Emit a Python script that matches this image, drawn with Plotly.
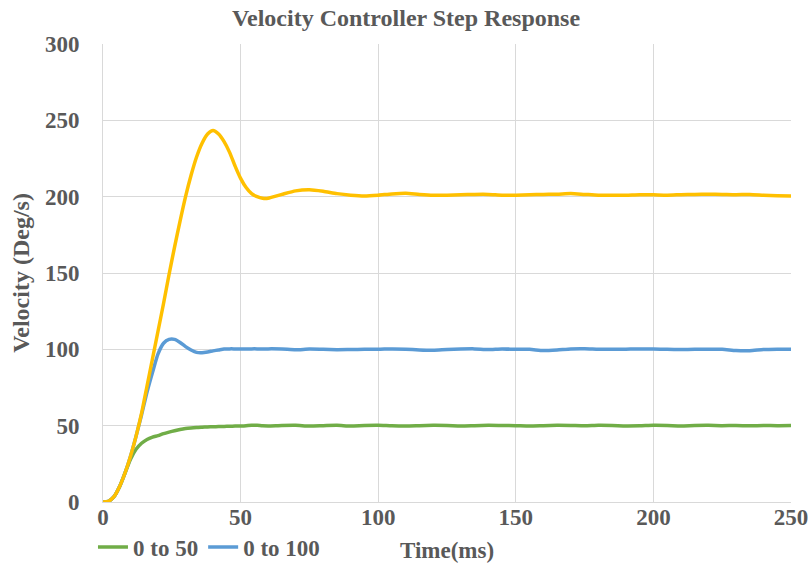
import plotly.graph_objects as go

time_ms = [0, 2, 4, 6, 8, 10, 12, 14, 16, 18, 20, 22, 24, 26, 28, 30, 32, 34, 36, 38,
           40, 42, 44, 46, 48, 50, 52, 54, 56, 58, 60, 65, 70, 75, 80, 85, 90, 95, 100,
           105, 110, 115, 120, 125, 130, 135, 140, 145, 150, 155, 160, 165, 170, 175,
           180, 185, 190, 195, 200, 205, 210, 215, 220, 225, 230, 235, 240, 245, 250]

vel_0_to_50 = [0, 0.5, 3.5, 10, 19, 28, 34.5, 38.5, 41, 42.5, 43.5, 44.8, 45.8, 46.7, 47.5,
               48.1, 48.5, 48.8, 49, 49.2, 49.3, 49.4, 49.5, 49.6, 49.7, 49.8, 50, 50.3,
               50.2, 49.9, 49.8, 50.1, 50.2, 49.8, 50, 50.2, 49.8, 50.1, 50.2, 49.9, 49.8,
               50, 50.2, 50.1, 49.8, 50, 50.2, 50.1, 50, 49.8, 50, 50.2, 50.1, 49.9, 50.2,
               50.1, 49.8, 49.9, 50.2, 50.1, 49.8, 50.1, 50.2, 50, 50.1, 49.9, 50.1, 50, 50.1]

vel_0_to_100 = [0, 0.5, 3.5, 10, 19, 30, 43, 57, 72, 85, 97, 104, 106.5, 106.5, 104.5, 101.8,
                99.6, 98, 97.8, 98.3, 99, 99.6, 100.2, 100.3, 100.3, 100.3, 100.2, 100.3,
                100.3, 100.2, 100.3, 100.2, 99.7, 100.2, 100, 99.8, 99.9, 100, 100, 100.3,
                100.1, 99.6, 99.4, 99.9, 100.2, 100.3, 99.9, 100.3, 100, 100, 99.2, 99.6,
                100.3, 100.4, 100.1, 100, 100.1, 100.3, 100.2, 100, 99.9, 100, 100, 100,
                99.2, 99.1, 99.9, 100.1, 100.1]

vel_0_to_200 = [0, 0.5, 3.5, 10, 19, 30, 43, 58, 76, 94, 112, 130, 149, 167, 184, 200, 214,
                226, 235, 241, 243.3, 241, 236, 229, 220, 212, 206, 202, 200, 199, 199,
                201.5, 203.8, 204.5, 203.5, 202, 201, 200.5, 201, 201.8, 202.2, 201.5, 201,
                201, 201.3, 201.5, 201.5, 201, 201, 201.3, 201.5, 201.6, 202, 201.5, 201,
                201, 201, 201.3, 201.2, 201, 201.3, 201.5, 201.6, 201.5, 201.3, 201.5, 201,
                200.6, 200.5]

x_ticks = [0, 50, 100, 150, 200, 250]
y_ticks = [0, 50, 100, 150, 200, 250, 300]

FONT = "Liberation Serif, Times New Roman, serif"
TXT = "#595959"
GRID = "#D9D9D9"

fig = go.Figure()
fig.add_trace(go.Scatter(x=time_ms, y=vel_0_to_50, name="0 to 50", mode="lines",
                         line=dict(color="#70AD47", width=3.5, shape="spline", smoothing=0.6)))
fig.add_trace(go.Scatter(x=time_ms, y=vel_0_to_100, name="0 to 100", mode="lines",
                         line=dict(color="#5B9BD5", width=3.5, shape="spline", smoothing=0.6)))
fig.add_trace(go.Scatter(x=time_ms, y=vel_0_to_200, name="0 to 200", mode="lines",
                         showlegend=False,
                         line=dict(color="#FFC000", width=3.5, shape="spline", smoothing=0.6)))

fig.update_layout(
    width=812, height=564,
    margin=dict(l=103, r=21, t=44, b=62, autoexpand=False),
    paper_bgcolor="white", plot_bgcolor="white",
    font=dict(family=FONT, color=TXT, size=23, weight="bold"),
    title=dict(text="Velocity Controller Step Response", x=0.5, xref="container",
               xanchor="center",
               y=0.968, yref="container", yanchor="middle",
               font=dict(family=FONT, size=24, color=TXT, weight="bold")),
    legend=dict(orientation="h", x=0.1145, xref="container", xanchor="left",
                y=0.030, yref="container", yanchor="middle",
                font=dict(size=23, color=TXT),
                bgcolor="rgba(0,0,0,0)", itemwidth=30, tracegroupgap=0),
    xaxis=dict(range=[0, 250], tickvals=x_ticks, showgrid=True, gridcolor=GRID,
               gridwidth=1, zeroline=False, showline=True, linecolor=GRID, linewidth=1,
               mirror=False, ticks="", ticklabelstandoff=-6,
               automargin=False, fixedrange=True),
    yaxis=dict(range=[0, 300], tickvals=y_ticks, showgrid=True, gridcolor=GRID,
               gridwidth=1, zeroline=False, showline=True, linecolor=GRID, linewidth=1,
               ticks="", ticklabelstandoff=18,
               title=dict(text="Velocity (Deg/s)", standoff=8, font=dict(size=24)),
               automargin=False, fixedrange=True),
    annotations=[dict(text="Time(ms)", xref="paper", x=0.5, xanchor="center",
                      yref="paper", y=-0.105, yanchor="middle", showarrow=False,
                      font=dict(family=FONT, size=23, color=TXT, weight="bold"))],
)

fig.write_html("out.html", config={"displayModeBar": False},
               post_script="document.body.style.margin='0';")
